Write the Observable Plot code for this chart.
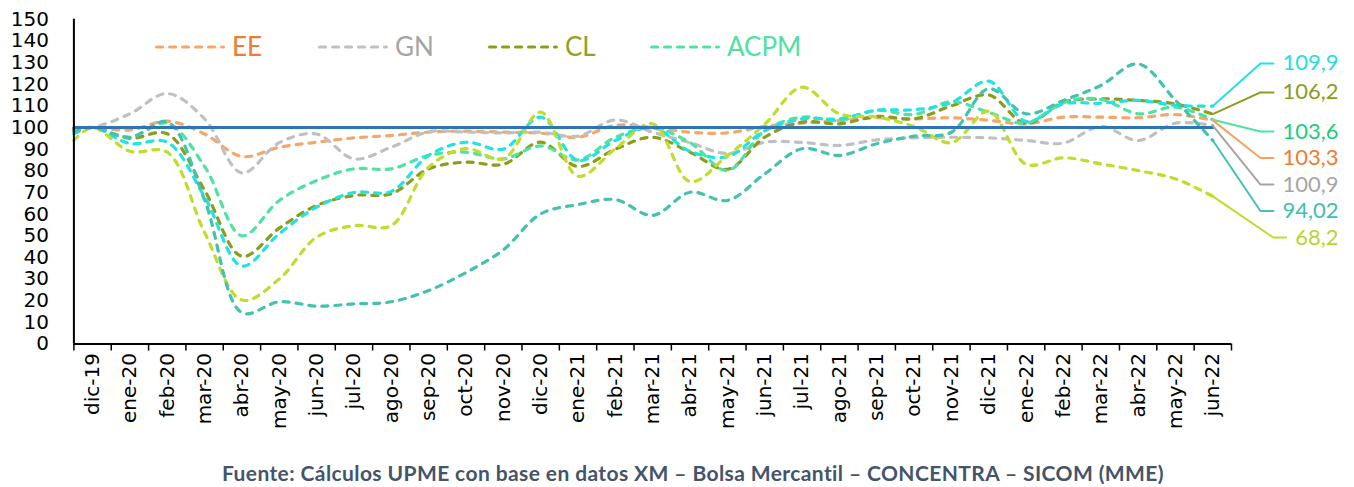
<!DOCTYPE html>
<html><head><meta charset="utf-8">
<script src="https://cdn.jsdelivr.net/npm/d3@7"></script>
<script src="https://cdn.jsdelivr.net/npm/@observablehq/plot@0.6"></script>
<style>
html,body{margin:0;padding:0;background:#fff;}
#wrap{position:relative;width:1354px;height:487px;overflow:hidden;}
.leg{position:absolute;top:31px;display:flex;align-items:center;font-family:Lato,sans-serif;font-size:26px;line-height:31px;white-space:nowrap;}
.leg svg{margin-right:7px}
#foot{position:absolute;left:0;width:1386px;top:460px;text-align:center;font-family:Lato,sans-serif;font-weight:bold;font-size:21px;letter-spacing:0.4px;color:#44546A;}
</style></head><body>
<div id="wrap"><div id="chart"></div><div id="legend"></div>
<div id="foot">Fuente: Cálculos UPME con base en datos XM – Bolsa Mercantil – CONCENTRA – SICOM (MME)</div></div>
<script>
// categories (dic-19 ... jun-22)
const months = ["dic-19","ene-20","feb-20","mar-20","abr-20","may-20","jun-20","jul-20","ago-20","sep-20","oct-20","nov-20","dic-20","ene-21","feb-21","mar-21","abr-21","may-21","jun-21","jul-21","ago-21","sep-21","oct-21","nov-21","dic-21","ene-22","feb-22","mar-22","abr-22","may-22","jun-22"];
// x positions: first value sits on the axis, then one per month
const xs = [-0.5].concat(months.map((_, i) => i));
// series values (index, dic-19 = 100)
const EE   = [99.5,100,98.9,102.9,97,86.6,90.9,93.2,95.2,96.3,97.9,98.3,97.9,97.4,95.5,101,100,97.8,97.5,100.5,102,103.2,104.5,104,104.5,103.3,101.7,104.8,104.8,104.5,106,103.3];
const GN   = [99.5,100,106.3,115.7,104,79,93,97,85.5,90.9,98,97.9,97.5,97.8,96,103.5,97.8,93,88,93.2,93.1,91.7,94.3,95.2,95.5,95.2,94,92.8,100.5,94,102,100.9];
const CL   = [99,100,95,97.1,71,40.5,53.5,64,68.6,69.4,80.9,84,83,93.2,82,90,95.5,88.6,80.7,95.5,102.5,101.7,105.1,104,110,115,101.8,111.7,113.2,112.5,110.9,106.2];
const ACPM = [98.5,100,95.5,102,82,50,66.3,75.5,80.9,80.9,87.1,88.6,85.5,91.5,85,95.5,99.7,93,80.1,98.6,104.8,103.2,107.9,106,112,107,102,111.7,113,106.3,109.4,103.6];
const S5   = [97,100,92.6,93.2,68,36,51,63.2,70,70.5,87.1,93.2,90,104.8,84.8,94,100,89,86.5,98.5,104,104,108,108.2,111.5,121.4,102.8,110.9,111.2,112.5,110.2,109.9];
const S6   = [98,100,95.5,102.5,66.5,14.5,19.5,17.5,18.5,19.5,24.7,33,43.5,60.1,64.4,66.7,59.4,70.1,66.3,78.6,90.2,87.1,92.5,96,97.8,117.9,106.3,112.5,119.4,129.4,112.5,94.02];
const S7   = [94,100,89,88.6,51.5,20.3,30,49.3,54.7,54.7,81.7,90.2,85.5,107.1,77.5,90.2,101.7,75,87,101.5,118.6,106.3,104.8,100.5,93,107.5,83,86,83.2,80.1,76.3,68.2];
const BASE = xs.map(() => 100);
const yTicks = d3.range(0, 151, 10);
// end labels (top to bottom)
const endSeries = ["S5","CL","ACPM","EE","GN","S6","S7"];
const endText   = ["109,9","106,2","103,6","103,3","100,9","94,02","68,2"];
</script>
<script>
const seriesVals = {EE, GN, CL, ACPM, S5, S6, S7};
const lineColor = {EE:"#F4A76A", GN:"#C0C0C0", CL:"#8C9C1B", ACPM:"#4FE3A3", S5:"#22E3E3", S6:"#45C2AE", S7:"#C0DC2C"};
const labelColor = {S5:"#1FE0E0", CL:"#8E9B1E", ACPM:"#1ECD7C", EE:"#ED7D31", GN:"#A5A5A5", S6:"#40BFA9", S7:"#B7D532"};
const leaderColor = {S5:"#22E3E3", CL:"#8E9B1E", ACPM:"#4FE3A3", EE:"#F4A460", GN:"#A5A5A5", S6:"#45C2AE", S7:"#BFDC2A"};
const labelSlot = [129.6,116.2,98.15,85.9,73.67,61.43,49.2]; // label layout in y units

const W = 1354, H = 455, ML = 73.4, MR = 123, MT = 18.75, MB = H - 343.5;
const unit = (W - MR - ML) / 31;
const pxToX = px => (px - ML) / unit - 0.5;
const LABEL_FONT = 22;

const ctx = document.createElement("canvas").getContext("2d");
ctx.font = LABEL_FONT + "px Lato";
const textEndX = pxToX(1338);
const leaders = [];
const labels = [];
endSeries.forEach((s, j) => {
  const w = ctx.measureText(endText[j]).width;
  const hEnd = 1338 - w - 9, elbow = hEnd - 13;
  const vEnd = seriesVals[s][seriesVals[s].length - 1];
  leaders.push({s, x: 30, y: vEnd}, {s, x: pxToX(elbow), y: labelSlot[j]}, {s, x: pxToX(hEnd), y: labelSlot[j]});
  labels.push({s, x: textEndX, y: labelSlot[j], t: endText[j]});
});

const order = ["EE","GN","CL","ACPM","S5","S7","S6"];
const lineMarks = order.map(s => Plot.line(xs.map((x, i) => ({x, v: seriesVals[s][i]})), {
  x: "x", y: "v", stroke: lineColor[s], strokeWidth: 3.2, strokeDasharray: "6,7",
  strokeLinecap: "round", curve: "catmull-rom"
}));

const boundaries = d3.range(-0.5, 31, 1);
const centers = months.map((_, i) => i);

const chart = Plot.plot({
  width: W, height: H,
  marginLeft: ML, marginRight: MR, marginTop: MT, marginBottom: MB,
  style: {fontFamily: "DejaVu Sans", fontSize: "20px", color: "#000", background: "#fff"},
  x: {domain: [-0.5, 30.5], label: null},
  y: {domain: [0, 150], label: null},
  marks: [
    Plot.axisY(yTicks, {tickSize: 0, tickPadding: 25, fontSize: 20, fill: "#000", label: null}),
    Plot.axisX(boundaries, {tickSize: 7, tickFormat: () => "", stroke: "#000", strokeWidth: 1.5, label: null}),
    Plot.axisX(centers, {tickSize: 0, tickPadding: 9, tickRotate: -90, tickFormat: i => months[i], fontSize: 20, fill: "#000", label: null}),
    ...lineMarks,
    Plot.line(xs.map((x, i) => ({x, v: BASE[i]})), {x: "x", y: "v", stroke: "#2E75B6", strokeWidth: 3}),
    Plot.ruleY([0], {stroke: "#000", strokeWidth: 2}),
    Plot.ruleX([-0.5], {stroke: "#000", strokeWidth: 2}),
    Plot.line(leaders, {x: "x", y: "y", z: "s", stroke: d => leaderColor[d.s], strokeWidth: 2}),
    Plot.text(labels, {x: "x", y: "y", text: "t", textAnchor: "end", fill: d => labelColor[d.s], fontSize: LABEL_FONT, fontFamily: "Lato"})
  ]
});
document.getElementById("chart").appendChild(chart);

// legend
const legItems = [["EE","#F4A76A","#ED7D31",155],["GN","#C0C0C0","#A5A5A5",318],["CL","#8C9C1B","#8FA31E",488],["ACPM","#4FE3A3","#4EE29E",650]];
const leg = document.getElementById("legend");
legItems.forEach(([name, lc, tc, left]) => {
  const d = document.createElement("div");
  d.className = "leg"; d.style.left = left + "px"; d.style.color = tc;
  d.innerHTML = `<svg width="70" height="10"><line x1="1.6" y1="5" x2="68.4" y2="5" stroke="${lc}" stroke-width="3.2" stroke-dasharray="6,7" stroke-linecap="round"/></svg><span>${name}</span>`;
  leg.appendChild(d);
});
</script>
</body></html>
